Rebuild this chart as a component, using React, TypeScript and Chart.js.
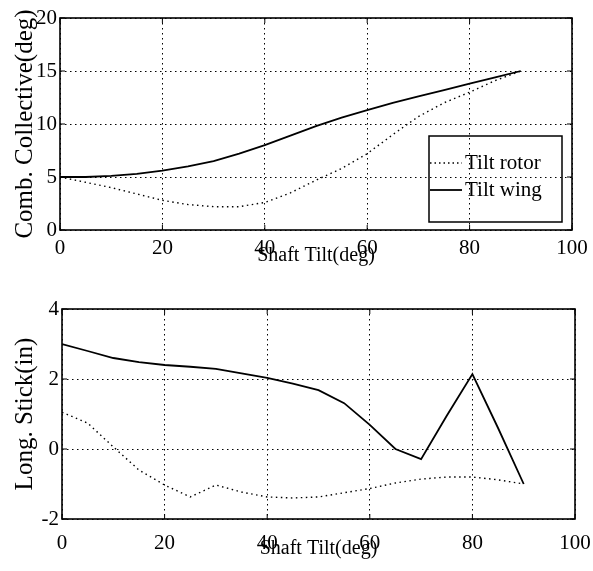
import React, { useEffect, useRef } from "react";
import { Chart, registerables } from "chart.js";

Chart.register(...registerables);

// ---- data ----
const shaftTilt = [0, 5, 10, 15, 20, 25, 30, 35, 40, 45, 50, 55, 60, 65, 70, 75, 80, 85, 90];
const collectiveTiltRotor = [5.0, 4.5, 4.0, 3.4, 2.8, 2.4, 2.2, 2.2, 2.6, 3.5, 4.7, 5.8, 7.2, 9.0, 10.7, 12.0, 13.0, 14.1, 15.0];
const collectiveTiltWing = [5.0, 5.0, 5.1, 5.3, 5.6, 6.0, 6.5, 7.2, 8.0, 8.9, 9.8, 10.6, 11.3, 12.0, 12.6, 13.2, 13.8, 14.4, 15.0];
const stickTiltRotor = [1.05, 0.74, 0.06, -0.6, -1.03, -1.37, -1.03, -1.23, -1.37, -1.4, -1.37, -1.25, -1.13, -0.97, -0.86, -0.8, -0.8, -0.88, -1.0];
const stickTiltWing = [3.0, 2.8, 2.6, 2.48, 2.4, 2.35, 2.29, 2.16, 2.03, 1.87, 1.68, 1.31, 0.69, 0.0, -0.29, 0.95, 2.14, 0.6, -1.0];

const xTickValues = [0, 20, 40, 60, 80, 100];
const topYTickValues = [0, 5, 10, 15, 20];
const bottomYTickValues = [-2, 0, 2, 4];

const seriesNames = ["Tilt rotor", "Tilt wing"];
const xTitle = "Shaft Tilt(deg)";
const topYTitle = "Comb. Collective(deg)";
const bottomYTitle = "Long. Stick(in)";

const FONT = "'Liberation Serif', 'Times New Roman', serif";

const framePlugin = {
  id: "frame",
  afterDatasetsDraw(chart: any) {
    const { ctx, chartArea } = chart;
    const { left, right, top, bottom } = chartArea;
    ctx.save();
    ctx.strokeStyle = "#000";
    ctx.lineWidth = 1.6;
    ctx.setLineDash([]);
    ctx.strokeRect(left, top, right - left, bottom - top);
    // inward tick marks
    const xs = chart.scales.x;
    const ys = chart.scales.y;
    ctx.lineWidth = 1;
    ctx.beginPath();
    xs.ticks.forEach((t: any) => {
      const px = xs.getPixelForValue(t.value);
      ctx.moveTo(px, bottom);
      ctx.lineTo(px, bottom - 5);
      ctx.moveTo(px, top);
      ctx.lineTo(px, top + 5);
    });
    ys.ticks.forEach((t: any) => {
      const py = ys.getPixelForValue(t.value);
      ctx.moveTo(left, py);
      ctx.lineTo(left + 5, py);
      ctx.moveTo(right, py);
      ctx.lineTo(right - 5, py);
    });
    ctx.stroke();
    ctx.restore();
  },
};

const legendPlugin = {
  id: "boxLegend",
  afterDatasetsDraw(chart: any, _args: any, opts: any) {
    if (!opts || !opts.show) return;
    const { ctx, chartArea } = chart;
    const bx = chartArea.right - 143;
    const by = chartArea.top + 118;
    const bw = 133;
    const bh = 86;
    ctx.save();
    ctx.strokeStyle = "#000";
    ctx.lineWidth = 1.5;
    ctx.setLineDash([]);
    ctx.strokeRect(bx, by, bw, bh);
    const rows = [
      { y: by + 27, dash: [1.5, 3], width: 1.4, label: seriesNames[0] },
      { y: by + 54, dash: [], width: 1.8, label: seriesNames[1] },
    ];
    rows.forEach((r) => {
      ctx.beginPath();
      ctx.setLineDash(r.dash);
      ctx.lineWidth = r.width;
      ctx.moveTo(bx + 1, r.y);
      ctx.lineTo(bx + 33, r.y);
      ctx.stroke();
      ctx.setLineDash([]);
      ctx.fillStyle = "#000";
      ctx.font = `21px ${FONT}`;
      ctx.textBaseline = "middle";
      ctx.textAlign = "left";
      ctx.fillText(r.label, bx + 36, r.y);
    });
    ctx.restore();
  },
};

function makeConfig(opts: {
  rotor: number[];
  wing: number[];
  yTicks: number[];
  yTitle: string;
  yWidth: number;
  xHeight: number;
  padTop: number;
  padRight: number;
  xTickPad: number;
  xTickLineHeight: number;
  xTitlePad: number;
  legend: boolean;
}) {
  const rotorPts = shaftTilt.map((x, i) => ({ x, y: opts.rotor[i] }));
  const wingPts = shaftTilt.map((x, i) => ({ x, y: opts.wing[i] }));
  const yMin = opts.yTicks[0];
  const yMax = opts.yTicks[opts.yTicks.length - 1];
  return {
    type: "line" as const,
    data: {
      datasets: [
        {
          label: seriesNames[0],
          data: rotorPts,
          borderColor: "#000",
          borderWidth: 1.4,
          borderDash: [1.5, 3.5],
          pointRadius: 0,
          fill: false,
          tension: 0,
        },
        {
          label: seriesNames[1],
          data: wingPts,
          borderColor: "#000",
          borderWidth: 1.8,
          pointRadius: 0,
          fill: false,
          tension: 0,
        },
      ],
    },
    options: {
      animation: false as const,
      responsive: false,
      maintainAspectRatio: false,
      devicePixelRatio: 1,
      layout: { padding: { left: 0, right: opts.padRight, top: opts.padTop, bottom: 0 } },
      plugins: {
        legend: { display: false },
        tooltip: { enabled: false },
        boxLegend: { show: opts.legend },
      },
      scales: {
        x: {
          type: "linear" as const,
          min: 0,
          max: 100,
          afterBuildTicks: (s: any) => {
            s.ticks = xTickValues.map((v) => ({ value: v }));
          },
          afterFit: (s: any) => {
            s.height = opts.xHeight;
          },
          ticks: {
            color: "#000",
            font: { family: FONT, size: 21, lineHeight: opts.xTickLineHeight },
            padding: opts.xTickPad,
            maxRotation: 0,
            autoSkip: false,
          },
          grid: { color: "#000", lineWidth: 1, drawTicks: false },
          border: { display: false, dash: [1.5, 3.5] },
          title: {
            display: true,
            text: xTitle,
            color: "#000",
            font: { family: FONT, size: 20 },
            padding: { top: 0, bottom: opts.xTitlePad },
          },
        },
        y: {
          type: "linear" as const,
          min: yMin,
          max: yMax,
          afterBuildTicks: (s: any) => {
            s.ticks = opts.yTicks.map((v) => ({ value: v }));
          },
          afterFit: (s: any) => {
            s.width = opts.yWidth;
          },
          ticks: {
            color: "#000",
            font: { family: FONT, size: 21 },
            padding: 3,
            autoSkip: false,
          },
          grid: { color: "#000", lineWidth: 1, drawTicks: false },
          border: { display: false, dash: [1.5, 3.5] },
          title: {
            display: true,
            text: opts.yTitle,
            color: "#000",
            font: { family: FONT, size: 25 },
            padding: { top: 10.5, bottom: 0 },
          },
        },
      },
    },
    plugins: [framePlugin, legendPlugin],
  };
}

function Panel(props: { top: number; height: number; config: any }) {
  const ref = useRef<HTMLCanvasElement | null>(null);
  useEffect(() => {
    if (!ref.current) return;
    const chart = new Chart(ref.current, props.config);
    return () => chart.destroy();
  }, []);
  return (
    <canvas
      ref={ref}
      width={593}
      height={props.height}
      style={{ position: "absolute", left: 0, top: props.top, width: 593, height: props.height }}
    />
  );
}

export default function App() {
  const topConfig = makeConfig({
    rotor: collectiveTiltRotor,
    wing: collectiveTiltWing,
    yTicks: topYTickValues,
    yTitle: topYTitle,
    yWidth: 60,
    xHeight: 55,
    padTop: 18,
    padRight: 21,
    xTickPad: 5,
    xTickLineHeight: 1.3,
    xTitlePad: 17,
    legend: true,
  });
  const bottomConfig = makeConfig({
    rotor: stickTiltRotor,
    wing: stickTiltWing,
    yTicks: bottomYTickValues,
    yTitle: bottomYTitle,
    yWidth: 62,
    xHeight: 52,
    padTop: 24,
    padRight: 18,
    xTickPad: 2,
    xTickLineHeight: 2.1,
    xTitlePad: 10,
    legend: false,
  });
  return (
    <div style={{ position: "absolute", left: 0, top: 0, width: 593, height: 571, background: "#fff" }}>
      <Panel top={0} height={285} config={topConfig} />
      <Panel top={285} height={286} config={bottomConfig} />
    </div>
  );
}
